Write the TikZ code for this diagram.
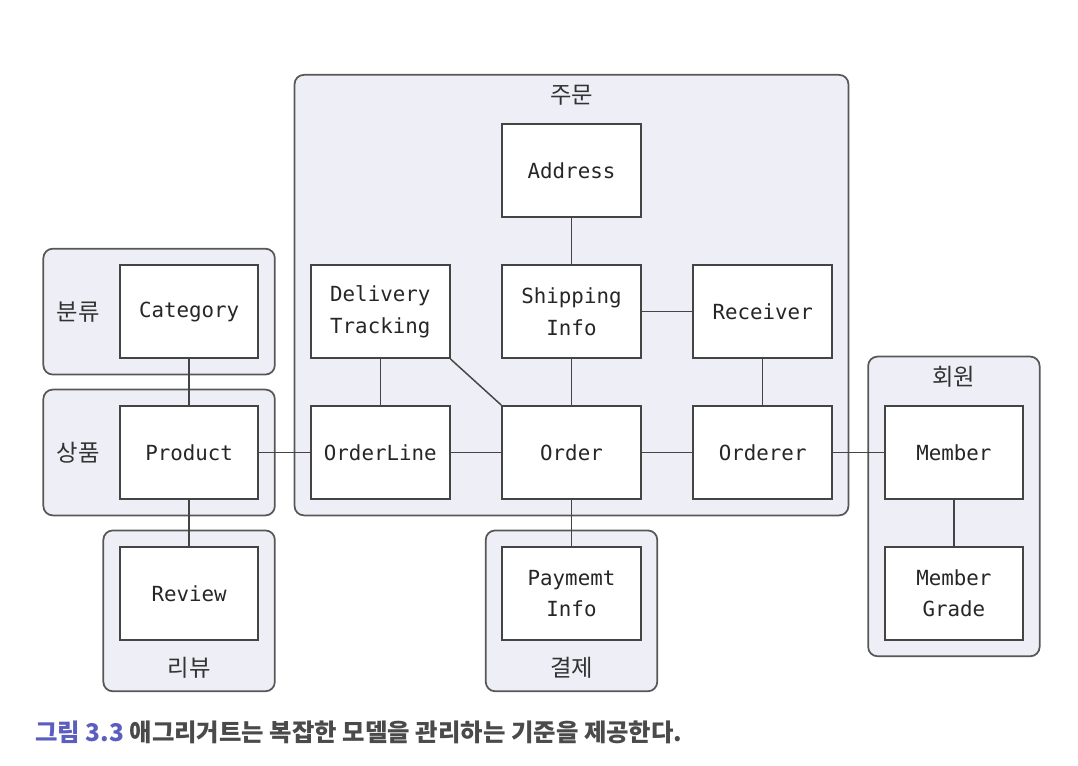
\documentclass[tikz,border=0pt]{standalone}
\usepackage{fontspec}
\setmonofont{DejaVu Sans Mono}
\newfontfamily\krfont{Noto Sans CJK KR}
\usepackage{xcolor}
\usetikzlibrary{positioning,fit,backgrounds,calc}

\definecolor{grpfill}{HTML}{EEEEF6}
\definecolor{linegray}{HTML}{444444}
\definecolor{capblue}{HTML}{5B5EBF}
\definecolor{captext}{HTML}{4A4A4A}

\begin{document}
\begin{tikzpicture}[x=0.75pt, y=0.75pt,
    entity/.style={rectangle, draw=linegray, line width=1.4pt, fill=white, minimum width=104pt, minimum height=69.75pt, inner sep=0pt, align=center, text=black!85, font=\ttfamily\fontsize{15.6}{23.5}\selectfont},
    group/.style={rectangle, draw=linegray!90, line width=1.3pt, fill=grpfill, rounded corners=7pt, inner sep=11.6pt},
    grouplabel/.style={font=\krfont\fontsize{17.5}{20}\selectfont, text=black!80},
    link/.style={draw=linegray, line width=1.1pt},
    node distance=34.5pt and 38pt
]
    \useasboundingbox (-571.5,-313.5) rectangle (506.5,452.5);

    % Nodes (grid around the order)
    \node[entity] (order) {Order};
    \node[entity, left=of order] (orderline) {OrderLine};
    \node[entity, right=of order] (orderer) {Orderer};
    \node[entity, above=of order] (shipping) {Shipping\\Info};
    \node[entity, above=of shipping] (address) {Address};
    \node[entity, above=of orderline] (delivery) {Delivery\\Tracking};
    \node[entity, above=of orderer] (receiver) {Receiver};

    \node[entity, left=of orderline] (product) {Product};
    \node[entity, above=of product] (category) {Category};
    \node[entity, below=of product] (review) {Review};
    \node[entity, below=of order] (payment) {Paymemt\\Info};
    \node[entity, right=of orderer] (member) {Member};
    \node[entity, below=of member] (grade) {Member\\Grade};

    % Aggregate groups
    \begin{scope}[on background layer]
        \coordinate (ordtop) at ($(address.north)+(0,33)$);
        \node[group, fit=(address)(delivery)(orderer)(ordtop)] (ordergrp) {};
        \coordinate (catleft) at ($(category.west)+(-60,0)$);
        \node[group, fit=(category)(catleft)] (catgrp) {};
        \coordinate (prodleft) at ($(product.west)+(-60,0)$);
        \node[group, fit=(product)(prodleft)] (prodgrp) {};
        \coordinate (revbot) at ($(review.south)+(0,-35)$);
        \node[group, fit=(review)(revbot)] (revgrp) {};
        \coordinate (paybot) at ($(payment.south)+(0,-35)$);
        \node[group, fit=(payment)(paybot)] (paygrp) {};
        \coordinate (memtop) at ($(member.north)+(0,33)$);
        \node[group, fit=(member)(grade)(memtop)] (memgrp) {};
    \end{scope}

    \node[grouplabel] (ordlbl) at ($(ordergrp.north)+(0,-21)$) {주문};
    \node[grouplabel] (catlbl) at ($(catgrp.west)!0.47!(category.west)$) {분류};
    \node[grouplabel] (prodlbl) at ($(prodgrp.west)!0.47!(product.west)$) {상품};
    \node[grouplabel] (revlbl) at ($(revgrp.south)+(0,24)$) {리뷰};
    \node[grouplabel] (paylbl) at ($(paygrp.south)+(0,24)$) {결제};
    \node[grouplabel] (memlbl) at ($(memgrp.north)+(0,-21)$) {회원};

    % Links
    \path[link] (address) -- (shipping);
    \path[link] (shipping) -- (receiver);
    \path[link] (delivery) -- (orderline);
    \path[link] (delivery.south east) -- (order.north west);
    \path[link] (shipping) -- (order);
    \path[link] (receiver) -- (orderer);
    \path[link] (product) -- (orderline);
    \path[link] (orderline) -- (order);
    \path[link] (order) -- (orderer);
    \path[link] (orderer) -- (member);
    \path[link] (category) -- (product);
    \path[link] (product) -- (review);
    \path[link] (order) -- (payment);
    \path[link] (member) -- (grade);

    % Caption
    \node[anchor=west, inner sep=0pt, text=captext, font=\krfont\bfseries\fontsize{18.3}{22}\selectfont] (caption) at (-536.5,-279.5)
        {\textcolor{capblue}{그림 3.3} 애그리거트는 복잡한 모델을 관리하는 기준을 제공한다.};
\end{tikzpicture}
\end{document}
